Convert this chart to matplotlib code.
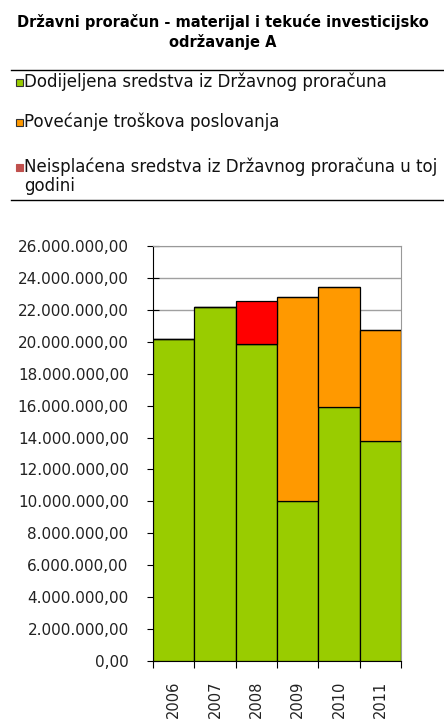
import matplotlib.pyplot as plt
from matplotlib.patches import Rectangle
from matplotlib.lines import Line2D

years = ['2006', '2007', '2008', '2009', '2010', '2011']
dodijeljena = [20.15e6, 22.15e6, 19.85e6, 10.05e6, 15.9e6, 13.8e6]
povecanje = [0, 0, 0, 12.75e6, 7.55e6, 6.95e6]
neisplacena = [0, 0, 2.7e6, 0, 0, 0]

green = '#99cc00'
orange = '#ff9900'
red = '#ff0000'

plt.rcParams['font.family'] = ['DejaVu Sans']

fig = plt.figure(figsize=(4.44, 7.19), dpi=100)
W, H = 444, 719

# title
fig.text(223 / W, 1 - 27 / H, 'Državni proračun - materijal i tekuće investicijsko',
         ha='center', va='baseline', fontsize=10.5, fontweight='bold')
fig.text(223 / W, 1 - 47 / H, 'održavanje A',
         ha='center', va='baseline', fontsize=10.5, fontweight='bold')

# legend block
for yy in (70, 200):
    fig.add_artist(Line2D([11 / W, 1], [1 - yy / H, 1 - yy / H], color='black', lw=1))
legend_items = [
    (green, 'Dodijeljena sredstva iz Državnog proračuna', 87, True),
    (orange, 'Povećanje troškova poslovanja', 127, True),
    ('#c0504d', 'Neisplaćena sredstva iz Državnog proračuna u toj', 172, False),
]
for col, txt, yy, edged in legend_items:
    fig.add_artist(Rectangle((16 / W, 1 - (yy - 1) / H), 7 / W, 7 / H, facecolor=col,
                             edgecolor='#333333' if edged else col, lw=0.8))
    fig.text(24 / W, 1 - yy / H, txt, ha='left', va='baseline', fontsize=12, color='#111111')
fig.text(24 / W, 1 - 191 / H, 'godini', ha='left', va='baseline', fontsize=12, color='#111111')

# chart
ax = fig.add_axes([153 / W, 1 - 661 / H, 248 / W, 415 / H])
x = range(len(years))
ax.bar(x, dodijeljena, width=1.0, color=green, edgecolor='black', lw=0.9, zorder=3)
ax.bar(x, povecanje, width=1.0, bottom=dodijeljena, color=orange, edgecolor='black', lw=0.9, zorder=3)
bottom2 = [a + b for a, b in zip(dodijeljena, povecanje)]
ax.bar(x, neisplacena, width=1.0, bottom=bottom2, color=red, edgecolor='black', lw=0.9, zorder=3)

ax.set_xlim(-0.5, len(years) - 0.5)
ax.set_ylim(0, 26e6)
yt = [i * 2e6 for i in range(14)]
ax.set_yticks(yt)
ax.set_yticklabels([f'{int(v):,}'.replace(',', '.') + ',00' for v in yt], fontsize=11, color='#222222')
ax.yaxis.grid(True, color='#a0a0a0', lw=1, zorder=0)
ax.set_xticks([i - 0.5 for i in range(len(years) + 1)])
ax.set_xticklabels([])
ax.set_xticks(list(x), minor=True)
ax.set_xticklabels(years, minor=True, rotation=90, fontsize=10.5, color='#222222', va='top')
ax.tick_params(axis='x', which='minor', length=0, pad=14)
ax.tick_params(axis='x', which='major', length=5, direction='out')
ax.tick_params(axis='y', length=9, direction='inout', pad=13)
for s in ('top', 'right'):
    ax.spines[s].set_color('#999999')
for s in ('left', 'bottom'):
    ax.spines[s].set_color('black')

fig.savefig('out.png', dpi=100)
